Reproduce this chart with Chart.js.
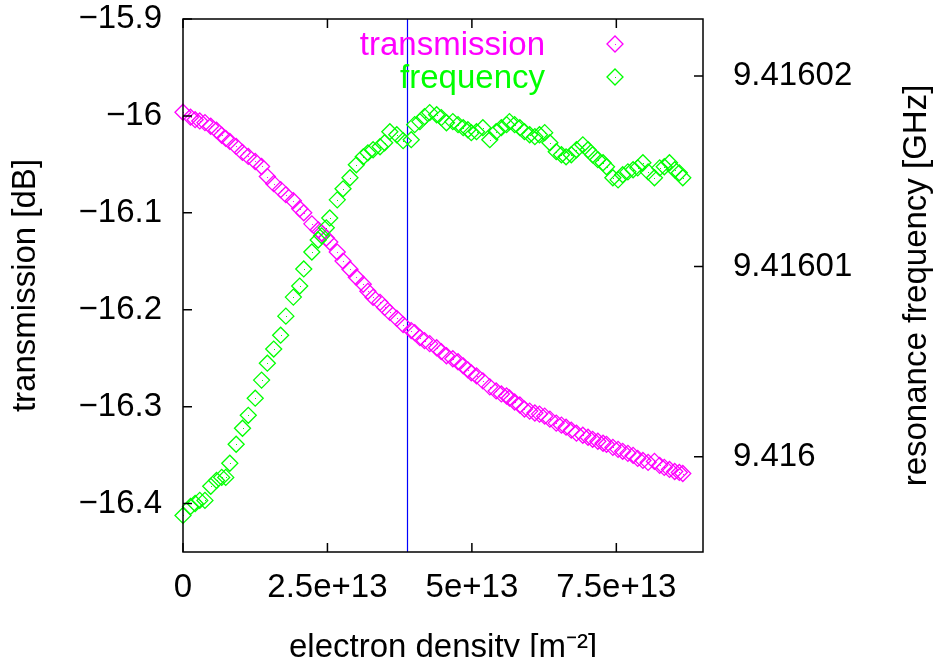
<!DOCTYPE html>
<html>
<head>
<meta charset="utf-8">
<title>transmission / resonance frequency vs electron density</title>
<script src="https://cdn.jsdelivr.net/npm/chart.js@4.4.0/dist/chart.umd.min.js"></script>
<style>
  html, body { margin: 0; padding: 0; background: #fff; }
  #wrap { width: 938px; height: 657px; }
</style>
</head>
<body>
<div id="wrap"><canvas id="densityChart" width="938" height="657"></canvas></div>
<script>
// electron density, in units of 1e13 m^-2
const density = [
  0, 0.13, 0.21, 0.29, 0.38, 0.48, 0.58, 0.67, 0.74, 0.81,
  0.92, 1.03, 1.13, 1.25, 1.36, 1.46, 1.57, 1.69, 1.78, 1.91,
  2.02, 2.09, 2.23, 2.34, 2.40, 2.48, 2.54, 2.67, 2.77, 2.89,
  3.00, 3.12, 3.20, 3.29, 3.41, 3.49, 3.58, 3.70, 3.81, 3.95,
  4.01, 4.10, 4.18, 4.27, 4.39, 4.47, 4.56, 4.67, 4.76, 4.85,
  4.93, 4.99, 5.08, 5.19, 5.31, 5.42, 5.51, 5.60, 5.65, 5.74,
  5.83, 5.91, 6.00, 6.09, 6.17, 6.26, 6.35, 6.46, 6.55, 6.63,
  6.72, 6.81, 6.92, 7.01, 7.09, 7.18, 7.27, 7.33, 7.44, 7.53,
  7.61, 7.70, 7.79, 7.87, 7.96, 8.05, 8.16, 8.25, 8.33, 8.42,
  8.51, 8.59, 8.65
];

// transmission [dB]
const transmission = [
  -15.9962, -16.0013, -16.0039, -16.0052, -16.0069, -16.0107, -16.0148, -16.0200, -16.0232, -16.0263,
  -16.0315, -16.0377, -16.0418, -16.0470, -16.0522, -16.0626, -16.0699, -16.0761, -16.0813, -16.0875,
  -16.0958, -16.1000, -16.1114, -16.1177, -16.1208, -16.1260, -16.1301, -16.1405, -16.1498, -16.1582,
  -16.1665, -16.1737, -16.1810, -16.1872, -16.1924, -16.1976, -16.2028, -16.2090, -16.2153, -16.2215,
  -16.2236, -16.2288, -16.2319, -16.2350, -16.2392, -16.2433, -16.2475, -16.2506, -16.2537, -16.2579,
  -16.2620, -16.2651, -16.2682, -16.2734, -16.2796, -16.2838, -16.2869, -16.2890, -16.2911, -16.2952,
  -16.2983, -16.3025, -16.3046, -16.3066, -16.3077, -16.3098, -16.3129, -16.3170, -16.3191, -16.3212,
  -16.3243, -16.3274, -16.3295, -16.3316, -16.3337, -16.3357, -16.3378, -16.3389, -16.3420, -16.3441,
  -16.3461, -16.3482, -16.3503, -16.3534, -16.3555, -16.3575, -16.3565, -16.3606, -16.3627, -16.3648,
  -16.3669, -16.3679, -16.3690
];

// resonance frequency [GHz]
const frequency = [
  9.41599692, 9.41599739, 9.41599755, 9.41599771, 9.41599771, 9.41599845, 9.41599876, 9.41599892, 9.41599892, 9.41599966,
  9.41600066, 9.41600150, 9.41600218, 9.41600308, 9.41600403, 9.41600492, 9.41600566, 9.41600639, 9.41600739, 9.41600839,
  9.41600897, 9.41600987, 9.41601076, 9.41601139, 9.41601161, 9.41601203, 9.41601255, 9.41601350, 9.41601408, 9.41601466,
  9.41601534, 9.41601576, 9.41601597, 9.41601613, 9.41601629, 9.41601650, 9.41601708, 9.41601692, 9.41601661, 9.41601666,
  9.41601745, 9.41601761, 9.41601787, 9.41601808, 9.41601797, 9.41601782, 9.41601755, 9.41601761, 9.41601745, 9.41601729,
  9.41601718, 9.41601703, 9.41601708, 9.41601729, 9.41601666, 9.41601708, 9.41601729, 9.41601745, 9.41601761, 9.41601745,
  9.41601729, 9.41601708, 9.41601692, 9.41601682, 9.41601692, 9.41601703, 9.41601650, 9.41601603, 9.41601587, 9.41601576,
  9.41601587, 9.41601613, 9.41601639, 9.41601613, 9.41601587, 9.41601561, 9.41601545, 9.41601524, 9.41601466, 9.41601455,
  9.41601482, 9.41601497, 9.41601508, 9.41601518, 9.41601545, 9.41601497, 9.41601466, 9.41601518, 9.41601524, 9.41601545,
  9.41601508, 9.41601492, 9.41601466
];

const xTicks = [0, 2.5, 5, 7.5];
const xTickLabels = ['0', '2.5e+13', '5e+13', '7.5e+13'];
const leftTicks = [-15.9, -16, -16.1, -16.2, -16.3, -16.4];
const leftTickLabels = ['\u221215.9', '\u221216', '\u221216.1', '\u221216.2', '\u221216.3', '\u221216.4'];
const rightTicks = [9.416, 9.41601, 9.41602];
const rightTickLabels = ['9.416', '9.41601', '9.41602'];
const markerDensity = 3.88; // vertical line position

const seriesNames = ['transmission', 'frequency'];
const seriesColors = ['#ff00ff', '#00ff00'];
const FONT = '"Liberation Sans", Arial, Helvetica, sans-serif';

Chart.defaults.font.family = FONT;
Chart.defaults.font.size = 33;
Chart.defaults.color = '#000';

// fixed axis boxes so the plot area sits where the original one does
const fixBox = (w, h) => (s) => {
  if (w !== null) s.width = w;
  if (h !== null) s.height = h;
  s.paddingTop = 0; s.paddingBottom = 0;
  s.paddingLeft = 0; s.paddingRight = 0;
};

// frame, inward ticks (gnuplot style), blue line, legend, right title
const gnuplotFrame = {
  id: 'gnuplotFrame',
  beforeDatasetsDraw(chart) {
    const { ctx, chartArea: a, scales } = chart;
    const px = Math.round(scales.x.getPixelForValue(markerDensity)) + 0.5;
    ctx.save();
    ctx.strokeStyle = '#0000ff';
    ctx.lineWidth = 1.2;
    ctx.beginPath();
    ctx.moveTo(px, a.top);
    ctx.lineTo(px, a.bottom);
    ctx.stroke();
    ctx.restore();
  },
  afterDatasetsDraw(chart) {
    const { ctx, chartArea: a, scales } = chart;
    ctx.save();
    // centre dots of the diamonds
    chart.data.datasets.forEach((ds, i) => {
      ctx.fillStyle = ds.pointBorderColor;
      chart.getDatasetMeta(i).data.forEach(p => ctx.fillRect(Math.round(p.x), Math.round(p.y), 1, 1));
    });

    ctx.strokeStyle = '#000';
    ctx.lineWidth = 1.5;
    ctx.strokeRect(a.left, a.top, a.right - a.left, a.bottom - a.top);
    const tl = 9;
    ctx.beginPath();
    scales.x.ticks.forEach(t => {
      const px = scales.x.getPixelForValue(t.value);
      ctx.moveTo(px, a.bottom); ctx.lineTo(px, a.bottom - tl);
      ctx.moveTo(px, a.top); ctx.lineTo(px, a.top + tl);
    });
    scales.y.ticks.forEach(t => {
      const py = scales.y.getPixelForValue(t.value);
      ctx.moveTo(a.left, py); ctx.lineTo(a.left + tl, py);
    });
    scales.y2.ticks.forEach(t => {
      const py = scales.y2.getPixelForValue(t.value);
      ctx.moveTo(a.right, py); ctx.lineTo(a.right - tl, py);
    });
    ctx.stroke();

    // legend
    ctx.font = '33px ' + FONT;
    ctx.textAlign = 'right';
    ctx.textBaseline = 'alphabetic';
    seriesNames.forEach((name, i) => {
      const by = a.top + 36 + i * 33;
      ctx.fillStyle = seriesColors[i];
      ctx.fillText(name, a.right - 158, by);
      const cx = a.right - 88, cy = by - 11, r = 8;
      ctx.strokeStyle = seriesColors[i];
      ctx.lineWidth = 1.3;
      ctx.beginPath();
      ctx.moveTo(cx - r, cy); ctx.lineTo(cx, cy - r); ctx.lineTo(cx + r, cy); ctx.lineTo(cx, cy + r);
      ctx.closePath();
      ctx.stroke();
      ctx.fillRect(cx, cy, 1, 1);
    });

    // right axis title, reading bottom to top
    ctx.fillStyle = '#000';
    ctx.textAlign = 'center';
    ctx.textBaseline = 'middle';
    ctx.translate(scales.y2.right - 21, (a.top + a.bottom) / 2);
    ctx.rotate(-Math.PI / 2);
    ctx.fillText('resonance frequency [GHz]', 0, 0);
    ctx.restore();
  }
};

const ctx = document.getElementById('densityChart');
new Chart(ctx, {
  type: 'scatter',
  data: {
    datasets: [
      {
        label: seriesNames[0],
        data: density.map((d, i) => ({ x: d, y: transmission[i] })),
        yAxisID: 'y',
        order: 2,
        pointStyle: 'rectRot',
        pointRadius: 8,
        pointBorderWidth: 1.3,
        pointBorderColor: seriesColors[0],
        pointBackgroundColor: 'rgba(0,0,0,0)',
        clip: false
      },
      {
        label: seriesNames[1],
        data: density.map((d, i) => ({ x: d, y: frequency[i] })),
        yAxisID: 'y2',
        order: 1,
        pointStyle: 'rectRot',
        pointRadius: 8,
        pointBorderWidth: 1.3,
        pointBorderColor: seriesColors[1],
        pointBackgroundColor: 'rgba(0,0,0,0)',
        clip: false
      }
    ]
  },
  options: {
    responsive: false,
    animation: false,
    events: [],
    layout: { padding: { top: 19, left: 0, right: 0, bottom: 0 } },
    plugins: {
      legend: { display: false },
      tooltip: { enabled: false }
    },
    scales: {
      x: {
        type: 'linear',
        position: 'bottom',
        min: 0,
        max: 9,
        afterFit: fixBox(null, 105),
        afterBuildTicks: (s) => { s.ticks = xTicks.map(v => ({ value: v })); },
        grid: { display: false, drawTicks: false },
        border: { display: false },
        ticks: {
          padding: 16,
          maxRotation: 0,
          autoSkip: false,
          font: { size: 33, lineHeight: 1.2 },
          callback: (v, i) => xTickLabels[i]
        },
        title: {
          display: true,
          text: 'electron density [m\u207B\u00B2]',
          font: { size: 33, lineHeight: 1 },
          padding: { top: 0, bottom: -7 }
        }
      },
      y: {
        type: 'linear',
        position: 'left',
        min: -16.45,
        max: -15.9,
        afterFit: fixBox(183, null),
        afterBuildTicks: (s) => { s.ticks = leftTicks.map(v => ({ value: v })); },
        grid: { display: false, drawTicks: false },
        border: { display: false },
        ticks: {
          padding: 21,
          autoSkip: false,
          font: { size: 33, lineHeight: 1.2 },
          callback: (v, i) => leftTickLabels[i]
        },
        title: {
          display: true,
          text: 'transmission [dB]',
          font: { size: 33, lineHeight: 1 },
          padding: { top: 9, bottom: 0 }
        }
      },
      y2: {
        type: 'linear',
        position: 'right',
        min: 9.415995,
        max: 9.416023,
        afterFit: fixBox(235, null),
        afterBuildTicks: (s) => { s.ticks = rightTicks.map(v => ({ value: v })); },
        grid: { display: false, drawTicks: false },
        border: { display: false },
        ticks: {
          padding: 30,
          autoSkip: false,
          font: { size: 33, lineHeight: 1.2 },
          callback: (v, i) => rightTickLabels[i]
        }
      }
    }
  },
  plugins: [gnuplotFrame]
});
</script>
</body>
</html>
